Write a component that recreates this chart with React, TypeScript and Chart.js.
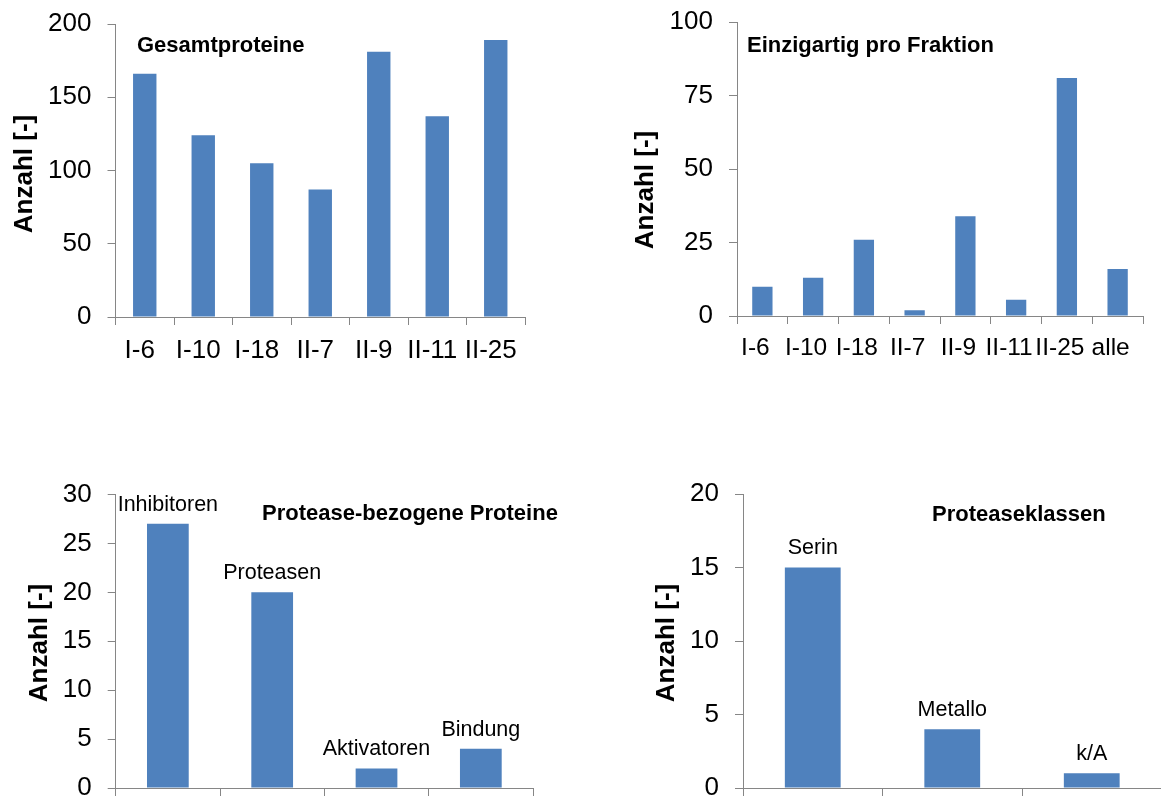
import React, { useEffect, useRef } from 'react';
import { Chart, registerables } from 'chart.js';

Chart.register(...registerables);

// ---------- data ----------
const fractionsTotal = ['I-6', 'I-10', 'I-18', 'II-7', 'II-9', 'II-11', 'II-25'];
const totalProteins = [166, 124, 105, 87, 181, 137, 189];

const fractionsUnique = ['I-6', 'I-10', 'I-18', 'II-7', 'II-9', 'II-11', 'II-25', 'alle'];
const uniqueProteins = [10, 13, 26, 2, 34, 5.5, 81, 16];

const proteaseGroups = ['Inhibitoren', 'Proteasen', 'Aktivatoren', 'Bindung'];
const proteaseGroupCounts = [27, 20, 2, 4];

const proteaseClasses = ['Serin', 'Metallo', 'k/A'];
const proteaseClassCounts = [15, 4, 1];

const panelTitles = ['Gesamtproteine', 'Einzigartig pro Fraktion', 'Protease-bezogene Proteine', 'Proteaseklassen'];
const yAxisTitle = 'Anzahl [-]';
const yMaxima = [200, 100, 30, 20];
const ySteps = [50, 25, 5, 5];

// ---------- styles ----------
const FONT = '"Liberation Sans", Arial, Helvetica, sans-serif';
const BLUE = '#4F81BD';
const AXIS = '#868686';

type Panel = {
  labels: string[];
  values: number[];
  title: string;
  max: number;
  step: number;
  box: { x: number; y: number; w: number; h: number };
  area: { l: number; r: number; t: number; b: number };
  titlePos: { x: number; y: number };
  axisTitlePos: { x: number; y: number };
  tickLabels: boolean;
  tickSize: number;
  labelOffset: number;
  barLabels: boolean;
  xH: number;
};

const panels: Panel[] = [
  {
    labels: fractionsTotal, values: totalProteins, title: panelTitles[0], max: yMaxima[0], step: ySteps[0],
    box: { x: 0, y: 0, w: 580, h: 400 },
    area: { l: 115.5, r: 525, t: 24, b: 317 },
    titlePos: { x: 137, y: 46 },
    axisTitlePos: { x: 25, y: 174 },
    tickLabels: true, tickSize: 26, labelOffset: -5, barLabels: false, xH: 60,
  },
  {
    labels: fractionsUnique, values: uniqueProteins, title: panelTitles[1], max: yMaxima[1], step: ySteps[1],
    box: { x: 580, y: 0, w: 581, h: 400 },
    area: { l: 737, r: 1143, t: 22.3, b: 316 },
    titlePos: { x: 747, y: 46 },
    axisTitlePos: { x: 646, y: 190 },
    tickLabels: true, tickSize: 24.5, labelOffset: -7, barLabels: false, xH: 60,
  },
  {
    labels: proteaseGroups, values: proteaseGroupCounts, title: panelTitles[2], max: yMaxima[2], step: ySteps[2],
    box: { x: 0, y: 400, w: 580, h: 396 },
    area: { l: 115.7, r: 533, t: 494.5, b: 788 },
    titlePos: { x: 262, y: 514 },
    axisTitlePos: { x: 40, y: 643 },
    tickLabels: false, tickSize: 26, labelOffset: 0, barLabels: true, xH: 8,
  },
  {
    labels: proteaseClasses, values: proteaseClassCounts, title: panelTitles[3], max: yMaxima[3], step: ySteps[3],
    box: { x: 580, y: 400, w: 600, h: 396 },
    area: { l: 743, r: 1161.5, t: 494, b: 788 },
    titlePos: { x: 932, y: 515 },
    axisTitlePos: { x: 667, y: 643 },
    tickLabels: false, tickSize: 26, labelOffset: 0, barLabels: true, xH: 8,
  },
];

const decorPlugin = {
  id: 'decor',
  afterDatasetsDraw(chart: any, _args: any, opts: any) {
    const ctx = chart.ctx as CanvasRenderingContext2D;
    ctx.save();
    ctx.fillStyle = '#000';
    ctx.font = `bold 22px ${FONT}`;
    ctx.textAlign = 'left';
    ctx.textBaseline = 'middle';
    ctx.fillText(opts.title, opts.titleX, opts.titleY);

    ctx.save();
    ctx.translate(opts.axisX, opts.axisY);
    ctx.rotate(-Math.PI / 2);
    ctx.font = `bold 26px ${FONT}`;
    ctx.textAlign = 'center';
    ctx.textBaseline = 'middle';
    ctx.fillText(opts.axisTitle, 0, 0);
    ctx.restore();

    if (opts.barLabels) {
      const meta = chart.getDatasetMeta(0);
      ctx.font = `21.5px ${FONT}`;
      ctx.textAlign = 'center';
      ctx.textBaseline = 'middle';
      meta.data.forEach((bar: any, i: number) => {
        ctx.fillText(String(chart.data.labels[i]), bar.x, bar.y - 19);
      });
    }
    ctx.restore();
  },
};

function makeChart(canvas: HTMLCanvasElement, p: Panel) {
  const W = p.box.w;
  const yW = p.area.l - p.box.x;
  const padRight = W - (p.area.r - p.box.x);
  const padTop = p.area.t - p.box.y;
  const padBottom = Math.max(0, p.box.h - (p.area.b - p.box.y) - p.xH);

  return new Chart(canvas, {
    type: 'bar',
    data: {
      labels: p.labels,
      datasets: [
        {
          data: p.values,
          backgroundColor: BLUE,
          borderWidth: 0,
          barPercentage: 0.4,
          categoryPercentage: 1,
        },
      ],
    },
    plugins: [decorPlugin as any],
    options: {
      responsive: false,
      animation: false,
      devicePixelRatio: 1,
      layout: { padding: { left: 0, right: padRight, top: padTop, bottom: padBottom } },
      plugins: {
        legend: { display: false },
        tooltip: { enabled: false },
        title: { display: false },
        decor: {
          title: p.title,
          titleX: p.titlePos.x - p.box.x,
          titleY: p.titlePos.y - p.box.y,
          axisTitle: yAxisTitle,
          axisX: p.axisTitlePos.x - p.box.x,
          axisY: p.axisTitlePos.y - p.box.y,
          barLabels: p.barLabels,
        },
      } as any,
      scales: {
        x: {
          grid: { drawOnChartArea: false, drawTicks: true, tickLength: 8, color: AXIS, offset: true },
          border: { color: AXIS, width: 1 },
          ticks: {
            display: p.tickLabels,
            color: '#000',
            font: { family: FONT, size: p.tickSize },
            padding: 10,
            maxRotation: 0,
            minRotation: 0,
            autoSkip: false,
            labelOffset: p.labelOffset,
          },
          afterFit: (s: any) => {
            s.height = p.xH;
            s.paddingLeft = 0;
            s.paddingRight = 0;
          },
        },
        y: {
          min: 0,
          max: p.max,
          grid: { drawOnChartArea: false, drawTicks: true, tickLength: 8, color: AXIS },
          border: { color: AXIS, width: 1 },
          ticks: {
            stepSize: p.step,
            color: '#000',
            font: { family: FONT, size: 26 },
            padding: 16,
          },
          afterFit: (s: any) => {
            s.width = yW;
            s.paddingTop = 0;
            s.paddingBottom = 0;
          },
        },
      } as any,
    },
  });
}

export default function App() {
  const refs = useRef<(HTMLCanvasElement | null)[]>([]);

  useEffect(() => {
    const charts = panels.map((p, i) => makeChart(refs.current[i] as HTMLCanvasElement, p));
    return () => charts.forEach((c) => c.destroy());
  }, []);

  return (
    <div style={{ position: 'fixed', left: 0, top: 0, width: 1161, height: 796, overflow: 'hidden', background: '#fff' }}>
      {panels.map((p, i) => (
        <canvas
          key={i}
          ref={(el) => {
            refs.current[i] = el;
          }}
          width={p.box.w}
          height={p.box.h}
          style={{ position: 'absolute', left: p.box.x, top: p.box.y }}
        />
      ))}
    </div>
  );
}
